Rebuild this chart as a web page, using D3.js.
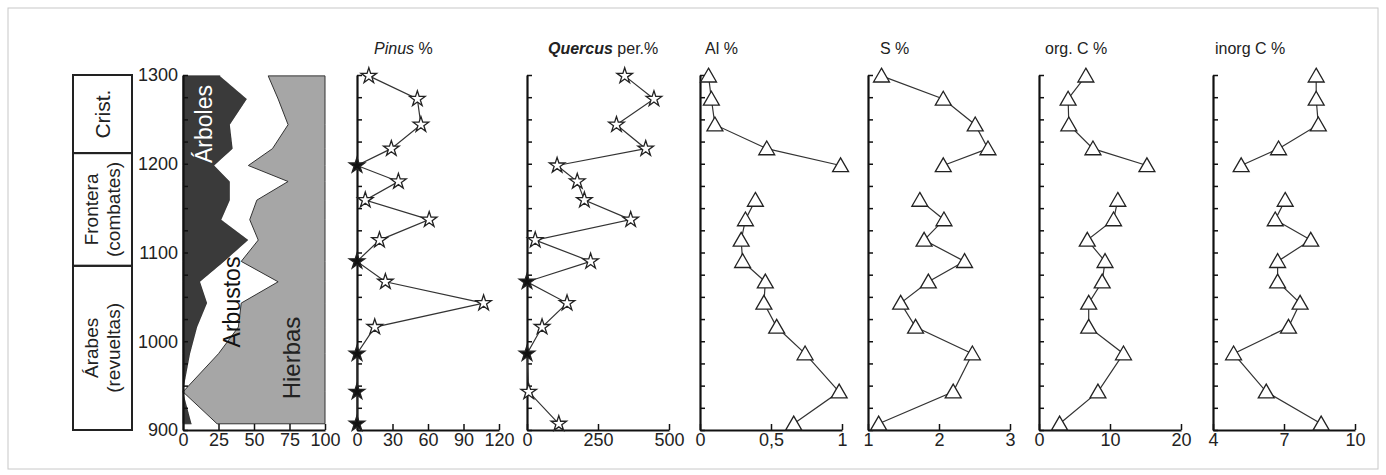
<!DOCTYPE html>
<html>
<head>
<meta charset="utf-8">
<script src="https://cdn.jsdelivr.net/npm/d3@7"></script>
<style>
  body { margin: 0; background: #fff; }
  text { font-family: "Liberation Sans", Arial, sans-serif; }
</style>
</head>
<body>
<script>
// sample ages (years AD), shared by pollen and geochemistry
const years = [1299, 1273, 1244, 1217, 1198, 1180, 1159, 1137, 1114, 1090, 1067, 1043, 1016, 986, 943, 907];

// vegetation percentages
const arboles  = [26, 45, 33, 35, 22, 33, 33, 27, 46, 29, 12, 17, 10, 5, 0, 6];
const arbustos = [34, 22, 41, 28, 24, 41, 19, 20, 7, 12, 55, 24, 29, 20, 0, 18];
const hierbas  = [40, 33, 26, 37, 54, 26, 48, 53, 47, 59, 33, 59, 61, 75, 100, 76];

// pollen
const pinus   = [10, 51, 54, 29, 0, 35, 7, 61, 19, 0, 24, 107, 15, 0, 0, 0];
const quercus = [344, 447, 315, 418, 106, 177, 202, 365, 29, 224, 0, 141, 53, 0, 6, 112];

// geochemistry (no sample at 1180)
const al     = [0.06, 0.08, 0.105, 0.47, 0.99, null, 0.39, 0.32, 0.29, 0.30, 0.46, 0.45, 0.54, 0.74, 0.98, 0.66];
const sulf   = [1.19, 2.06, 2.51, 2.69, 2.06, null, 1.73, 2.07, 1.79, 2.36, 1.85, 1.46, 1.67, 2.47, 2.20, 1.15];
const orgC   = [6.6, 4.1, 4.2, 7.6, 15.2, null, 11.1, 10.5, 6.8, 9.3, 8.9, 7.0, 7.0, 11.9, 8.3, 2.9];
const inorgC = [8.36, 8.36, 8.45, 6.77, 5.19, null, 7.05, 6.63, 8.13, 6.73, 6.73, 7.68, 7.19, 4.87, 6.25, 8.57];

// historical periods
const periods = [
    { from: 1212, to: 1300, lines: ["Crist."] },
    { from: 1085, to: 1212, lines: ["Frontera", "(combates)"] },
    { from: 900, to: 1085, lines: ["Árabes", "(revueltas)"] }
];

const width = 1386;
const height = 475;
const panelW = 142;

const svg = d3.select("body")
    .append("svg")
    .attr("width", width)
    .attr("height", height);

// light frame round the figure
svg.append("rect")
    .attr("x", 8).attr("y", 8)
    .attr("width", width - 16).attr("height", height - 14)
    .attr("fill", "none")
    .attr("stroke", "#c8c8c8");

const y = d3.scaleLinear().domain([900, 1300]).range([430, 75]);

// period boxes
const boxes = svg.append("g");
periods.forEach(p => {
    const y0 = y(p.to), y1 = y(p.from);
    boxes.append("rect")
        .attr("x", 73).attr("y", y0)
        .attr("width", 59).attr("height", y1 - y0)
        .attr("fill", "none")
        .attr("stroke", "#222")
        .attr("stroke-width", 2);
    const cy = (y0 + y1) / 2;
    p.lines.forEach((t, i) => {
        const cx = 102.5 + (i - (p.lines.length - 1) / 2) * 22;
        boxes.append("text")
            .attr("transform", `translate(${cx},${cy}) rotate(-90)`)
            .attr("text-anchor", "middle")
            .attr("dy", "0.35em")
            .attr("font-size", p.lines.length === 1 ? 21 : 19)
            .attr("fill", "#222")
            .text(t);
    });
});

// inward-ticked axes for a panel
function drawAxes(g, x, ticks, fmt, labelsY) {
    const yAxis = d3.axisLeft(y)
        .tickValues(d3.range(900, 1301, 25))
        .tickSizeInner(-5)
        .tickSizeOuter(0)
        .tickFormat(d => (labelsY && d % 100 === 0) ? d : "");
    const ya = g.append("g")
        .attr("transform", `translate(${x.range()[0]},0)`)
        .call(yAxis);
    ya.select(".domain").attr("stroke-width", 2.2).attr("stroke", "#111");
    ya.selectAll(".tick line").attr("stroke", "#111").attr("stroke-width", 1.5);
    ya.selectAll(".tick text").attr("font-size", 18).attr("fill", "#222")
        .attr("x", -5).attr("font-family", "Liberation Sans, Arial, sans-serif");

    const xAxis = d3.axisBottom(x)
        .tickValues(ticks)
        .tickSizeInner(-6)
        .tickSizeOuter(0)
        .tickFormat(fmt);
    const xa = g.append("g").attr("transform", `translate(0,${y(900)})`).call(xAxis);
    xa.select(".domain").attr("stroke-width", 2.2).attr("stroke", "#111");
    xa.selectAll(".tick line").attr("stroke", "#111").attr("stroke-width", 1.5);
    xa.selectAll(".tick text").attr("font-size", 18).attr("fill", "#222")
        .attr("y", 3).attr("font-family", "Liberation Sans, Arial, sans-serif");
}

// vegetation stacked area
const vegRows = years.map((yr, i) => ({ year: yr, arboles: arboles[i], arbustos: arbustos[i], hierbas: hierbas[i] }));
const stacked = d3.stack().keys(["arboles", "arbustos", "hierbas"])(vegRows);
const xVeg = d3.scaleLinear().domain([0, 100]).range([183, 183 + panelW]);
const vegColors = { arboles: "#3a3a3a", arbustos: "#ffffff", hierbas: "#a6a6a6" };

const area = d3.area()
    .y(d => y(d.data.year))
    .x0(d => xVeg(d[0]))
    .x1(d => xVeg(d[1]));

const veg = svg.append("g");
veg.selectAll("path")
    .data(stacked)
    .enter()
    .append("path")
    .attr("d", area)
    .attr("fill", d => vegColors[d.key])
    .attr("stroke", d => d.key === "arbustos" ? "none" : "#333")
    .attr("stroke-width", 1);

const vegLabels = [
    { text: "Árboles", x: 204, y: 124, color: "#fff", size: 23 },
    { text: "Arbustos", x: 232, y: 302, color: "#111", size: 23 },
    { text: "Hierbas", x: 292, y: 358, color: "#222", size: 24 }
];
veg.selectAll("text")
    .data(vegLabels)
    .enter()
    .append("text")
    .attr("transform", d => `translate(${d.x},${d.y}) rotate(-90)`)
    .attr("text-anchor", "middle")
    .attr("dy", "0.35em")
    .attr("font-size", d => d.size)
    .attr("fill", d => d.color)
    .text(d => d.text);

drawAxes(svg.append("g"), xVeg, [0, 25, 50, 75, 100], d => d, true);

// profile panels
const comma = d => String(d).replace(".", ",");
const panels = [
    { x0: 357, title: [["Pinus", "italic", 400], [" %", "normal", 400]], tx: 374, values: pinus, domain: [0, 120], ticks: [0, 30, 60, 90, 120], fmt: d => d, mark: "star" },
    { x0: 527, title: [["Quercus", "italic", 700], [" per.%", "normal", 400]], tx: 548, values: quercus, domain: [0, 500], ticks: [0, 250, 500], fmt: d => d, mark: "star" },
    { x0: 700, title: [["Al %", "normal", 400]], tx: 705, values: al, domain: [0, 1], ticks: [0, 0.5, 1], fmt: comma, mark: "tri" },
    { x0: 868, title: [["S %", "normal", 400]], tx: 880, values: sulf, domain: [1, 3], ticks: [1, 2, 3], fmt: d => d, mark: "tri" },
    { x0: 1039, title: [["org. C %", "normal", 400]], tx: 1045, values: orgC, domain: [0, 20], ticks: [0, 10, 20], fmt: d => d, mark: "tri" },
    { x0: 1213, title: [["inorg C %", "normal", 400]], tx: 1215, values: inorgC, domain: [4, 10], ticks: [4, 7, 10], fmt: d => d, mark: "tri" }
];

panels.forEach(p => {
    const g = svg.append("g");
    const x = d3.scaleLinear().domain(p.domain).range([p.x0, p.x0 + panelW]);
    const pts = years.map((yr, i) => ({ year: yr, v: p.values[i] }));

    drawAxes(g, x, p.ticks, p.fmt, false);

    const line = d3.line()
        .defined(d => d.v != null)
        .x(d => x(d.v))
        .y(d => y(d.year));

    g.append("path")
        .attr("d", line(pts))
        .attr("fill", "none")
        .attr("stroke", "#333")
        .attr("stroke-width", 1.2);

    const sym = p.mark === "star"
        ? d3.symbol().type(d3.symbolStar).size(75)
        : d3.symbol().type(d3.symbolTriangle).size(110);

    g.selectAll(".mark")
        .data(pts.filter(d => d.v != null))
        .enter()
        .append("path")
        .attr("class", "mark")
        .attr("transform", d => `translate(${x(d.v)},${y(d.year) + (p.mark === "tri" ? 1.5 : 0)})`)
        .attr("d", sym)
        .attr("fill", d => (p.mark === "star" && d.v === 0) ? "#111" : "#fff")
        .attr("stroke", "#222")
        .attr("stroke-width", 1.3);

    const t = g.append("text")
        .attr("x", p.tx)
        .attr("y", 54)
        .attr("font-size", 16)
        .attr("fill", "#222");
    p.title.forEach(([s, style, weight]) => {
        t.append("tspan")
            .attr("font-style", style)
            .attr("font-weight", weight)
            .text(s);
    });
});
</script>
</body>
</html>
